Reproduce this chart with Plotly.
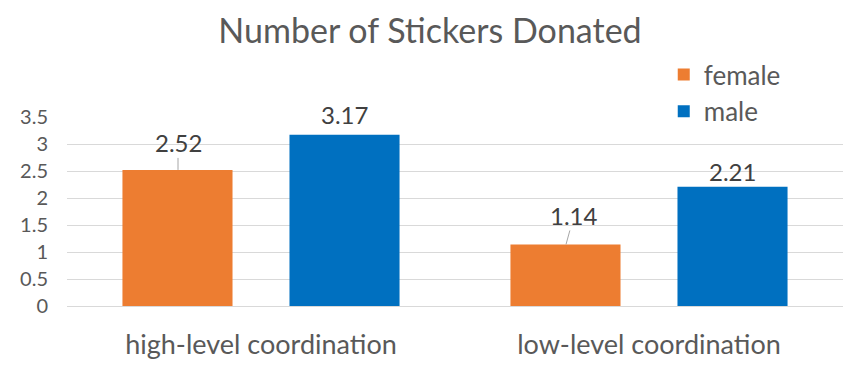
import plotly.graph_objects as go

categories = ["high-level coordination", "low-level coordination"]
female = [2.52, 1.14]
male = [3.17, 2.21]
series_names = ["female", "male"]
y_ticks = [0, 0.5, 1, 1.5, 2, 2.5, 3, 3.5]
y_tick_text = ["0", "0.5", "1", "1.5", "2", "2.5", "3", "3.5"]

colors = ["#ED7D31", "#0070C0"]
FONT = "Lato, Carlito, Calibri, sans-serif"
GREY = "#595959"

fig = go.Figure()
for name, vals, col in zip(series_names, [female, male], colors):
    fig.add_trace(go.Bar(x=categories, y=vals, name=name, marker_color=col,
                         marker_line_width=0))

# label styling per bar
label_style = {
    ("female", 0): dict(shift=-83, arrow=True, ax=0, ay=-27),
    ("male", 0): dict(shift=83, arrow=False, dy=20),
    ("female", 1): dict(shift=-83, arrow=True, ax=8, ay=-29),
    ("male", 1): dict(shift=83, arrow=False, dy=15),
}
for name, vals in zip(series_names, [female, male]):
    for i, v in enumerate(vals):
        s = label_style[(name, i)]
        if s["arrow"]:
            fig.add_annotation(x=categories[i], y=v, xshift=s["shift"], text=f"{v:.2f}",
                               showarrow=True, arrowhead=0, arrowwidth=1, arrowcolor="#A6A6A6",
                               ax=s["ax"], ay=s["ay"], standoff=0, borderpad=0,
                               font=dict(family=FONT, size=24, color="#404040"))
        else:
            fig.add_annotation(x=categories[i], y=v, xshift=s["shift"], yshift=s["dy"],
                               text=f"{v:.2f}", showarrow=False, yanchor="middle",
                               font=dict(family=FONT, size=24, color="#404040"))

fig.update_layout(
    width=859, height=382,
    margin=dict(l=59, r=24, t=109, b=84, autoexpand=False),
    paper_bgcolor="white", plot_bgcolor="white",
    barmode="group", bargap=0.139, bargroupgap=0.341,
    title=dict(text="Number of Stickers Donated", x=422 / 859, xanchor="center",
               y=0.94, yanchor="middle", automargin=False,
               font=dict(family=FONT, size=34, color=GREY)),
    font=dict(family=FONT, color=GREY),
    legend=dict(x=0.769, y=1.349, xanchor="left", yanchor="top",
                font=dict(family=FONT, size=26, color=GREY),
                bgcolor="rgba(0,0,0,0)", tracegroupgap=0),
    showlegend=True,
)
fig.update_yaxes(range=[0, 3.5], tickvals=y_ticks, ticktext=y_tick_text,
                 showgrid=True, gridcolor="#D9D9D9", gridwidth=1,
                 zeroline=True, zerolinecolor="#D9D9D9", zerolinewidth=1,
                 showline=False, ticks="", ticklabelstandoff=18, automargin=False,
                 tickfont=dict(family=FONT, size=20, color=GREY))
fig.update_xaxes(showgrid=False, showline=False, ticks="", ticklabelstandoff=20,
                 automargin=False,
                 tickfont=dict(family=FONT, size=27, color=GREY))

fig.write_html("out.html")
